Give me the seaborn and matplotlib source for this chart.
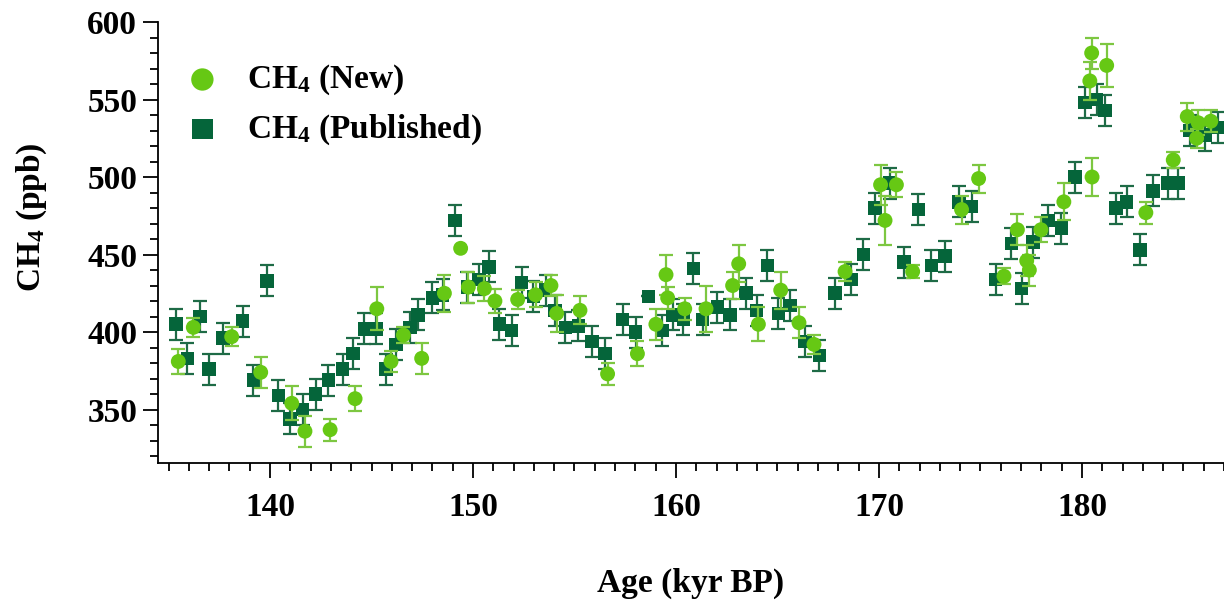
import matplotlib
matplotlib.use('Agg')
import matplotlib.pyplot as plt
import pandas as pd
import seaborn as sns
from matplotlib.ticker import MultipleLocator

# CH4 (New) - age (kyr BP), ppb, 1-sigma
new_age = [135.48, 136.22, 138.11, 139.54, 141.07, 141.72, 142.96, 144.19, 145.26, 145.96,
           146.57, 147.47, 148.59, 149.39, 149.77, 150.56, 151.08, 152.2, 153.08, 153.84,
           154.12, 155.27, 156.63, 158.1, 159.01, 159.51, 159.59, 160.43, 161.48, 162.79,
           163.09, 164.06, 165.16, 166.06, 166.8, 168.33, 170.08, 170.3, 170.86, 171.66,
           174.07, 174.91, 176.16, 176.82, 177.28, 177.41, 177.98, 179.11, 180.39, 180.48,
           180.5, 181.22, 183.15, 184.5, 185.19, 185.65, 185.73, 186.35]
new_ch4 = [381, 403, 397, 374, 354, 336, 337, 357, 415, 381,
           398, 383, 425, 454, 429, 428, 420, 421, 424, 430,
           412, 414, 373, 386, 405, 437, 422, 415, 415, 430,
           444, 405, 427, 406, 392, 439, 495, 472, 495, 439,
           479, 499, 436, 466, 446, 440, 466, 484, 562, 580,
           500, 572, 477, 511, 539, 525, 535, 536]
new_err = [8, 6, 6, 10, 11, 10, 7, 8, 14, 7,
           5, 10, 12, 0, 10, 8, 8, 6, 8, 7,
           12, 9, 7, 8, 10, 13, 7, 7, 15, 9,
           12, 11, 12, 10, 6, 6, 13, 16, 8, 4,
           9, 9, 5, 10, 10, 10, 8, 12, 12, 10,
           12, 14, 7, 5, 9, 6, 8, 7]

# CH4 (Published)
pub_age = [135.37, 135.93, 136.55, 137.0, 137.67, 138.65, 139.18, 139.84, 140.41, 140.99,
           141.61, 142.25, 142.87, 143.58, 144.1, 144.65, 145.22, 145.7, 146.2, 146.9,
           147.3, 148.0, 148.5, 149.1, 149.72, 150.3, 150.78, 151.3, 151.9, 152.4,
           152.97, 153.58, 154.04, 154.55, 155.19, 155.85, 156.5, 157.37, 158.01, 158.64,
           159.3, 159.84, 160.36, 160.86, 161.31, 162.04, 162.66, 163.45, 163.97, 164.5,
           165.04, 165.62, 166.35, 167.06, 167.83, 168.63, 169.23, 169.8, 170.54, 171.24,
           171.94, 172.58, 173.25, 173.95, 174.57, 175.75, 176.53, 177.03, 177.6, 178.32,
           178.99, 179.66, 180.15, 180.72, 181.13, 181.67, 182.2, 182.86, 183.51, 184.25,
           184.74, 185.32, 186.08, 186.7]
pub_ch4 = [405, 383, 410, 376, 396, 407, 369, 433, 359, 344,
           350, 360, 369, 376, 386, 402, 402, 376, 392, 403,
           411, 422, 424, 472, 429, 434, 442, 405, 401, 432,
           423, 427, 414, 403, 404, 394, 386, 408, 400, 423,
           401, 411, 408, 441, 408, 416, 411, 425, 414, 443,
           412, 417, 394, 385, 425, 434, 450, 480, 496, 445,
           479, 443, 449, 484, 481, 434, 457, 428, 458, 472,
           467, 500, 548, 550, 543, 480, 484, 453, 491, 496,
           496, 530, 527, 532]
pub_err = [10] * len(pub_age)
pub_err[39] = 0

new_df = pd.DataFrame({'age': new_age, 'ch4': new_ch4, 'err': new_err})
pub_df = pd.DataFrame({'age': pub_age, 'ch4': pub_ch4, 'err': pub_err})

light = '#66C814'
light_bar = '#7DC741'
dark = '#05653A'
dark_bar = '#1E6B46'

sns.set_style('ticks')
plt.rcParams['font.family'] = ['Liberation Serif', 'DejaVu Serif']
plt.rcParams['font.weight'] = 'bold'
plt.rcParams['mathtext.fontset'] = 'custom'
plt.rcParams['mathtext.rm'] = 'Liberation Serif:bold'
plt.rcParams['mathtext.default'] = 'rm'
for key in ['text.color', 'axes.labelcolor', 'xtick.color', 'ytick.color', 'axes.edgecolor']:
    plt.rcParams[key] = 'black'

fig = plt.figure(figsize=(12.24, 6.03), dpi=100)
ax = fig.add_axes([158 / 1224, 140 / 603, 1066 / 1224, 441 / 603])

ax.errorbar(pub_df['age'], pub_df['ch4'], yerr=pub_df['err'], fmt='none',
            ecolor=dark_bar, elinewidth=1.6, capsize=5, capthick=1.6, zorder=1)
sns.scatterplot(data=pub_df, x='age', y='ch4', marker='s', s=95, color=dark,
                edgecolor='none', linewidth=0, label='CH$_4$ (Published)', ax=ax, zorder=2)
ax.errorbar(new_df['age'], new_df['ch4'], yerr=new_df['err'], fmt='none',
            ecolor=light_bar, elinewidth=1.6, capsize=5, capthick=1.6, zorder=3)
sns.scatterplot(data=new_df, x='age', y='ch4', marker='o', s=115, color=light,
                edgecolor='none', linewidth=0, label='CH$_4$ (New)', ax=ax, zorder=4)

ax.set_xlim(134.48, 187.0)
ax.set_ylim(315.5, 600)
ax.xaxis.set_major_locator(MultipleLocator(10))
ax.xaxis.set_minor_locator(MultipleLocator(1))
ax.yaxis.set_major_locator(MultipleLocator(50))
ax.yaxis.set_minor_locator(MultipleLocator(10))

sns.despine(ax=ax)
for side in ['left', 'bottom']:
    ax.spines[side].set_linewidth(1.3)
    ax.spines[side].set_color('black')
ax.tick_params(axis='both', which='major', direction='out', length=11, width=1.3,
               labelsize=24, color='black', labelcolor='black')
ax.tick_params(axis='both', which='minor', direction='out', length=6, width=1.3, color='black')
ax.tick_params(axis='x', which='major', pad=10)
ax.tick_params(axis='y', which='major', pad=4)

ax.set_xlabel('Age (kyr BP)', fontsize=24, fontweight='bold', labelpad=32)
ax.set_ylabel('CH$_4$ (ppb)', fontsize=24, fontweight='bold')
ax.yaxis.set_label_coords(-0.102, 0.558)

handles, labels = ax.get_legend_handles_labels()
order = [labels.index('CH$_4$ (New)'), labels.index('CH$_4$ (Published)')]
leg = ax.legend([handles[i] for i in order], [labels[i] for i in order],
                loc='upper left', bbox_to_anchor=(0.026, 0.907), frameon=False,
                fontsize=24, markerscale=1.5, handlelength=1.0, handletextpad=0.85,
                labelspacing=0.45, borderpad=0, borderaxespad=0)

fig.savefig('out.png', dpi=100)
